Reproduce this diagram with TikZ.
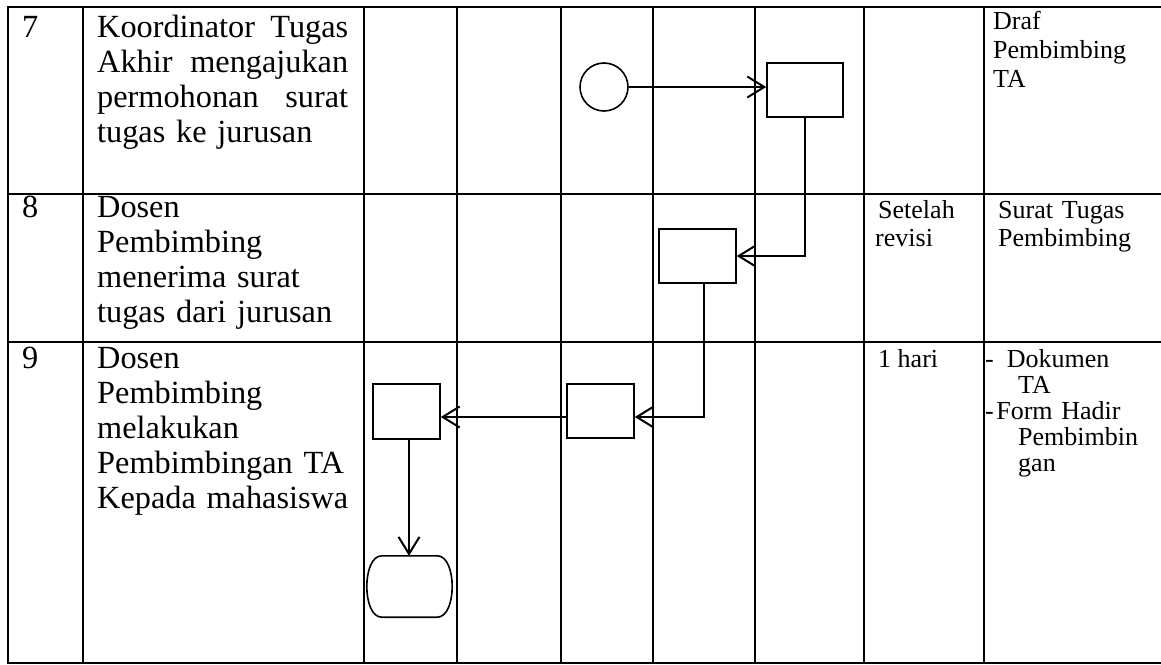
\documentclass[tikz,border=0pt]{standalone}
\usepackage{fontspec}
\setmainfont{Liberation Serif}
\usetikzlibrary{arrows.meta,calc}
\newcommand{\bigfs}{\fontsize{32.3}{35}\selectfont}
\newcommand{\smfs}{\fontsize{26}{29}\selectfont}
\begin{document}
\begin{tikzpicture}[x=1pt,y=-1pt,
  grid/.style={line width=2pt, line cap=rect},
  proc/.style={draw, rectangle, line width=1.6pt, inner sep=0pt},
  startc/.style={draw, circle, line width=1.6pt, inner sep=0pt, minimum size=48pt},
  flow/.style={line width=2pt, -{Straight Barb[length=17pt,width=21pt]}},
  big/.style={font=\bigfs, inner sep=0pt, anchor=base west, align=left},
  small/.style={font=\smfs, inner sep=0pt, anchor=base west, align=left}]
\useasboundingbox (0,0) rectangle (1161,664);
\fill[white] (0,0) rectangle (1161,664);
% table grid
\foreach \y in {7,194,342,663} \draw[grid] (8,\y) -- (1161,\y);
\foreach \x in {8,83,363.5,457,561,653,755,864,984} \draw[grid] (\x,7) -- (\x,663);
% texts
\node[big] (n7) at (22,37) {7};
\node[big, text width=251pt] (d7) at (97,37) {\makebox[251pt]{Koordinator\hfill Tugas}\\\makebox[251pt]{Akhir\hfill mengajukan}\\\makebox[251pt]{permohonan\hfill surat}\\tugas ke jurusan};
\node[big] (n8) at (22,217) {8};
\node[big, text width=262pt] (d8) at (97,217) {Dosen\\Pembimbing\\menerima surat\\tugas dari jurusan};
\node[big] (n9) at (22,368) {9};
\node[big, text width=262pt] (d9) at (97,368) {Dosen\\Pembimbing\\melakukan\\Pembimbingan TA\\Kepada mahasiswa};
\node[small, text width=160pt, font=\fontsize{26}{29}\selectfont] (o7) at (993,29) {Draf\\Pembimbing\\TA};
\node[small, text width=110pt, font=\fontsize{26}{28}\selectfont] (w8) at (878,218) {Setelah\\\hspace*{-3pt}revisi};
\node[small, text width=160pt, font=\fontsize{26}{28}\selectfont] (o8) at (998,218) {Surat Tugas\\Pembimbing};
\node[small] (w9) at (878,367) {1 hari};
\node[small, text width=170pt, font=\fontsize{26}{26}\selectfont] (o9) at (985,367) {-\hspace{13pt}Dokumen\\\hspace*{33pt}TA\\-\hspace{2.5pt}Form Hadir\\\hspace*{33pt}Pembimbin\\\hspace*{33pt}gan};
% flow shapes
\node[startc] (s) at (604,87) {};
\node[proc, minimum width=76pt, minimum height=54pt] (b1) at (805,90) {};
\node[proc, minimum width=77pt, minimum height=54pt] (b2) at (697.5,256) {};
\node[proc, minimum width=67pt, minimum height=54pt] (b3) at (600.5,411) {};
\node[proc, minimum width=67pt, minimum height=55pt] (b4) at (406.5,411.5) {};
\node[minimum width=83pt, minimum height=61pt, inner sep=0pt] (t) at (409.5,586.5) {};
\draw[line width=1.6pt] ($(t.north west)+(14,0)$) -- ($(t.north east)+(-14,0)$)
  .. controls ($(t.north east)+(6,0)$) and ($(t.south east)+(6,0)$) .. ($(t.south east)+(-14,0)$)
  -- ($(t.south west)+(14,0)$)
  .. controls ($(t.south west)+(-6,0)$) and ($(t.north west)+(-6,0)$) .. cycle;
% connectors
\draw[flow] (s) -- (s -| b1.west);
\draw[flow] (b1.south) |- (b2.east);
\draw[flow] ([xshift=6.5pt]b2.south) |- ([yshift=-6pt]b3.east);
\draw[flow] ([yshift=-6pt]b3.west) -- ([yshift=-6pt]b3.west -| b4.east);
\draw[flow] ([xshift=2.5pt]b4.south) -- ([xshift=2.5pt]b4.south |- t.north);
\end{tikzpicture}
\end{document}
